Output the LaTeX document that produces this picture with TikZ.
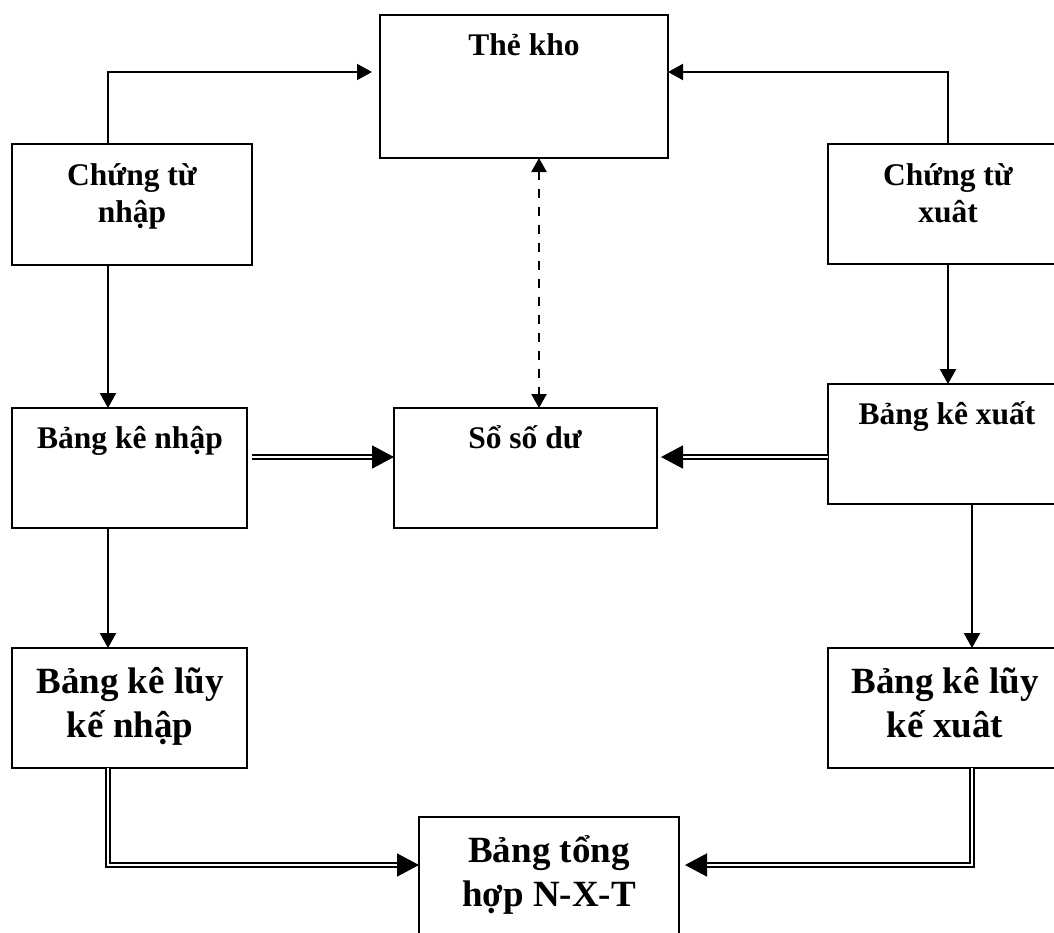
\documentclass[tikz,border=0pt]{standalone}
\usepackage{fontspec}
\setmainfont{Liberation Serif}
\usetikzlibrary{arrows.meta,calc}
\begin{document}
\begin{tikzpicture}[x=1pt,y=-1pt,
  box/.style={draw, line width=2.2pt, rectangle, anchor=north west, inner sep=0pt, outer sep=0pt},
  txt/.style={anchor=base, inner sep=0pt, font=\bfseries\fontsize{31.5}{38}\selectfont},
  bigtxt/.style={anchor=base, inner sep=0pt, font=\bfseries\fontsize{37}{44}\selectfont},
  arr/.style={line width=2.2pt, -{Triangle[length=15pt,width=16pt]}},
  dbl/.style={double, double distance=2.5pt, line width=1.6pt, -{Triangle[length=22pt,width=23pt]}},
  dsh/.style={line width=2.5pt, dash pattern=on 9pt off 9pt,
    {Triangle[length=14pt,width=15pt]}-{Triangle[length=14pt,width=15pt]}}
]
\useasboundingbox (0,0) rectangle (1054,932);
\clip (0,0) rectangle (1054,932);

% boxes
\node[box, minimum width=288pt, minimum height=143pt] (kho) at (380,15) {};
\node[box, minimum width=240pt, minimum height=121pt] (ctn) at (12,144) {};
\node[box, minimum width=240pt, minimum height=120pt] (ctx) at (828,144) {};
\node[box, minimum width=235pt, minimum height=120pt] (bkn) at (12,408) {};
\node[box, minimum width=263pt, minimum height=120pt] (ssd) at (394,408) {};
\node[box, minimum width=238pt, minimum height=120pt] (bkx) at (828,384) {};
\node[box, minimum width=235pt, minimum height=120pt] (lkn) at (12,648) {};
\node[box, minimum width=234pt, minimum height=120pt] (lkx) at (828,648) {};
\node[box, minimum width=260pt, minimum height=120pt] (tong) at (419,817) {};

% labels
\node[txt] (khoA) at (524,55) {Thẻ kho};
\node[txt] (ctnA) at (132,185) {Chứng từ};
\node[txt] (ctnB) at (132,222) {nhập};
\node[txt] (ctxA) at (948,185) {Chứng từ};
\node[txt] (ctxB) at (948,222) {xuât};
\node[txt] (bknA) at (130,448) {Bảng kê nhập};
\node[txt] (ssdA) at (525,448) {Sổ số dư};
\node[txt] (bkxA) at (947,424) {Bảng kê xuất};
\node[bigtxt] (lknA) at (130,693) {Bảng kê lũy};
\node[bigtxt] (lknB) at (130,737) {kế nhập};
\node[bigtxt] (lkxA) at (945,693) {Bảng kê lũy};
\node[bigtxt] (lkxB) at (945,737) {kế xuât};
\node[bigtxt] (tongA) at (549,862) {Bảng tổng};
\node[bigtxt] (tongB) at (549,906) {hợp N-X-T};

% single arrows
\draw[arr] ([xshift=-24pt]ctn.north) |- ([xshift=-8pt,yshift=14.5pt]kho.west);
\draw[arr] (ctx.north) |- ([yshift=14.5pt]kho.east);
\draw[arr] ([xshift=-24pt]ctn.south) -- ([xshift=-24pt]ctn.south |- bkn.north);
\draw[arr] (ctx.south) -- (ctx.south |- bkx.north);
\draw[arr] ([xshift=-21.5pt]bkn.south) -- ([xshift=-21.5pt]bkn.south |- lkn.north);
\draw[arr] ([xshift=25pt]bkx.south) -- ([xshift=25pt]bkx.south |- lkx.north);

% two-way dashed link
\draw[dsh] ([xshift=15pt]kho.south) -- ([xshift=15pt]kho.south |- ssd.north);

% double-line arrows
\draw[dbl] ([xshift=5pt,yshift=11pt]bkn.east) -- ([yshift=11pt]ssd.west);
\draw[dbl] ([yshift=-13pt]bkx.west) -- ([xshift=4pt,yshift=11pt]ssd.east);
\draw[dbl] ([xshift=-21.5pt]lkn.south) |- ([yshift=12pt]tong.west);
\draw[dbl] ([xshift=27pt]lkx.south) |- ([xshift=6pt,yshift=12pt]tong.east);
\end{tikzpicture}
\end{document}
